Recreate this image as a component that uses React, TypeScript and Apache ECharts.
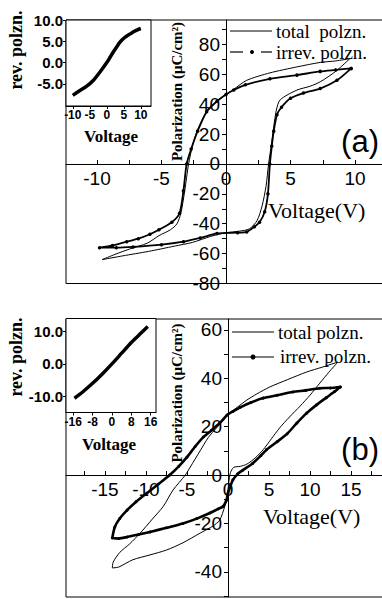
import React, { useEffect, useRef } from 'react';
import * as echarts from 'echarts';

const SERIF = '"Liberation Serif", "Times New Roman", serif';
const SANS = '"Liberation Sans", Arial, sans-serif';

// ---------- Panel (a) ----------
const aTotalV = [9.6, 8.5, 7.3, 5.5, 3.4, 1.6, 0.6, 0, -0.7, -1.5, -2.2, -2.6, -2.9, -3.2, -3.5, -3.8, -4.3, -5.2, -6.1, -7.5, -8.6, -9.6,
  -8, -6, -4, -2.6, -1.2, 0, 1, 1.8, 2.4, 2.8, 3.1, 3.3, 3.5, 3.7, 3.9, 4.2, 5.5, 6.5, 7.3, 8.5, 9.6];
const aTotalP = [70.5, 69, 68, 65, 61, 56, 50, 46.5, 42, 35, 23, 12, 0, -18, -33, -40, -44, -48, -53, -57, -60.5, -64,
  -61.5, -58.5, -55, -52.5, -48.5, -46, -45, -43.5, -38, -28, -15, 0, 12, 25, 36, 43, 49.5, 52, 55, 62, 70.5];

const aIrrevV = [9.7, 8.5, 7.3, 5.5, 3.4, 1.5, 0.6, 0, -0.7, -1.5, -2.2, -2.7, -3.05, -3.3, -3.6, -4.2, -5.2, -5.9, -6.8, -7.7, -8.8, -9.8,
  -8.5, -7.2, -5, -3.3, -2, -0.7, 0.9, 1.6, 2.2, 2.6, 3.0, 3.25, 3.4, 3.55, 3.7, 3.95, 4.3, 5, 6, 7.3, 8.6, 9.7];
const aIrrevP = [64, 63, 62, 59.5, 57, 53, 49.5, 46.5, 42, 35, 22, 10, 0, -18, -33, -39, -44, -47, -50, -52, -54.5, -56,
  -56, -55.5, -54, -52, -49.5, -46.5, -46, -45.5, -42, -39, -32, -20, 0, 12, 22, 33, 38, 44, 47.5, 50.5, 56, 64];

const aRevV = [-10, -8, -6, -4, -2, 0, 1, 2, 3, 4, 5, 6, 7, 8, 9, 10];
const aRevP = [-7.7, -6.6, -5.6, -4.2, -2.2, 0, 1.3, 2.6, 3.8, 4.9, 5.7, 6.3, 6.8, 7.3, 7.7, 8.0];

// ---------- Panel (b) ----------
const bTotalV = [13.4, 11.5, 9.6, 7.3, 5.1, 3.5, 2.3, 1.2, 0.2, -0.6, -1.4, -2.4, -3.4, -4.6, -5.2, -6.7, -7.9, -9.3, -10.7, -12, -13.2, -14, -14.1,
  -13.3, -11.6, -9.5, -7.5, -5.5, -3.4, -1.8, -1, -0.4, -0.1, 0.1, 0.3, 0.7, 1.5, 2.3, 3.3, 4.3, 5.3, 6.3, 7.5, 8.8, 10, 11.2, 12.3, 13.4];
const bTotalP = [46.7, 44.6, 42.6, 39.5, 36.4, 33.5, 31, 28.2, 25.6, 22.5, 19.5, 15.5, 10, 3.3, 0, -6.2, -13, -18.5, -24, -28.5, -32, -36, -38.4,
  -38, -35, -33, -31, -28, -24, -21, -18.6, -13, -9, -3, 1, 3.2, 3.6, 4.5, 7, 10.5, 15, 19.5, 24, 28.5, 33, 38, 42.5, 46.7];

const bIrrevV = [13.7, 12.5, 11.2, 9.5, 7.9, 6, 4.3, 2.8, 1.5, 0.6, -0.1, -1, -2, -3, -4, -5, -6, -7.1, -8.5, -9.9, -11.2, -12.3, -13.2, -13.8, -14.1,
  -13.3, -12.3, -10.9, -9.5, -7.5, -5.5, -3.8, -2.2, -1.2, -0.6, -0.2, 0, 0.3, 0.6, 1.2, 1.8, 3, 4, 4.7, 6, 7.2, 8.4, 9.6, 10.8, 12, 13, 13.7];
const bIrrevP = [36.4, 36, 35.9, 35, 34.3, 33, 31.8, 30, 28, 26.3, 24.8, 21.5, 18.5, 15.7, 11.8, 7.4, 3.6, 0, -3.8, -7.5, -11, -14.5, -18, -21.5, -26,
  -26.2, -25.6, -24.6, -23.5, -21.8, -20, -18, -15.7, -14, -13, -10.5, -7.5, -4.5, -2, 0.5, 2, 4.8, 8, 10.5, 13.8, 17, 21.5, 25.6, 29, 32, 34.5, 36.4];

const bRevV = [-15.5, -12, -8, -4, 0, 4, 8, 12, 14.8];
const bRevP = [-10.6, -8.6, -6.0, -3.1, 0, 3.3, 6.6, 9.5, 11.5];

// ---------- Axis ticks / labels ----------
const aXLabels = [-10, -5, 0, 5, 10];
const aXTicks = [-10, -7.5, -5, -2.5, 0, 2.5, 5, 7.5, 10];
const aYLabels = [-80, -60, -40, -20, 0, 20, 40, 60, 80];
const aYTicks = [-80, -70, -60, -50, -40, -30, -20, -10, 0, 10, 20, 30, 40, 50, 60, 70, 80, 90];
const bXLabels = [-15, -10, -5, 0, 5, 10, 15];
const bXTicks = [-17.5, -15, -12.5, -10, -7.5, -5, -2.5, 0, 2.5, 5, 7.5, 10, 12.5, 15, 17.5];
const bYLabels = [-40, -20, 0, 20, 40, 60];
const bYTicks = [-50, -40, -30, -20, -10, 0, 10, 20, 30, 40, 50, 60];
const aInsetXLabels = [-10, -5, 0, 5, 10];
const aInsetYLabels = [-5, 0, 5, 10];
const bInsetXLabels = [-16, -8, 0, 8, 16];
const bInsetYLabels = [-10, 0, 10];

const zip = (xs: number[], ys: number[]) => xs.map((x, i) => [x, ys[i]]);

// grid geometry (pixels)
const GA = { left: 66, top: 20, width: 320, height: 263.5 };
const GB = { left: 66, top: 319, width: 320, height: 278 };
const A_X = [-12.4, 12.4];
const A_Y = [-80, 96.4];
const B_X = [-19.75, 19.27];
const B_Y = [-50.4, 64.5];

// offsets that bring the axes onto the zero lines
const zeroOffsetX = (g: any, yr: number[]) => -(g.height * (0 - yr[0])) / (yr[1] - yr[0]);
const zeroOffsetY = (g: any, xr: number[]) => -(g.width * (0 - xr[0])) / (xr[1] - xr[0]);

const mainX = (gridIndex: number, r: number[], labels: number[], ticks: number[], offset: number) => ({
  type: 'value', gridIndex, min: r[0], max: r[1], position: 'bottom', offset,
  axisLine: { onZero: false, lineStyle: { color: '#000', width: 1 } },
  axisTick: { show: true, inside: true, length: 4, customValues: ticks, lineStyle: { color: '#000' } },
  axisLabel: { customValues: labels, color: '#000', fontFamily: SANS, fontSize: 19, margin: 5 },
  splitLine: { show: false },
});
const mainY = (gridIndex: number, r: number[], labels: number[], ticks: number[], offset: number) => ({
  type: 'value', gridIndex, min: r[0], max: r[1], position: 'left', offset,
  axisLine: { onZero: false, lineStyle: { color: '#000', width: 1 } },
  axisTick: { show: true, inside: false, length: 4, customValues: ticks, lineStyle: { color: '#000' } },
  axisLabel: { customValues: labels, color: '#000', fontFamily: SANS, fontSize: 19, margin: 6 },
  splitLine: { show: false },
});
const insetX = (gridIndex: number, min: number, max: number, labels: number[]) => ({
  type: 'value', gridIndex, min, max, position: 'bottom',
  axisLine: { onZero: false, lineStyle: { color: '#000', width: 1 } },
  axisTick: { show: true, inside: false, length: 3, customValues: labels, lineStyle: { color: '#000' } },
  axisLabel: { customValues: labels, color: '#000', fontFamily: SANS, fontWeight: 'bold', fontSize: 12, margin: 3 },
  splitLine: { show: false },
});
const insetY = (gridIndex: number, min: number, max: number, labels: number[]) => ({
  type: 'value', gridIndex, min, max, position: 'left',
  axisLine: { onZero: false, lineStyle: { color: '#000', width: 1 } },
  axisTick: { show: true, inside: false, length: 3, customValues: labels, lineStyle: { color: '#000' } },
  axisLabel: {
    customValues: labels, color: '#000', fontFamily: SANS, fontWeight: 'bold', fontSize: 15, margin: 3,
    formatter: (v: number) => v.toFixed(1),
  },
  splitLine: { show: false },
});

const txt = (x: number, y: number, text: string, font: string, align = 'left', rotation = 0) => ({
  type: 'text', x, y, rotation, z: 10,
  style: { text, font, fill: '#000', textAlign: align, textVerticalAlign: 'middle' },
});
const seg = (x1: number, y1: number, x2: number, y2: number, w = 1) => ({
  type: 'line', z: 10, shape: { x1, y1, x2, y2 }, style: { stroke: '#000', lineWidth: w },
});
const dot = (cx: number, cy: number, r: number) => ({
  type: 'circle', z: 10, shape: { cx, cy, r }, style: { fill: '#000' },
});

const gridBase = { show: true, borderColor: '#000', borderWidth: 1, containLabel: false, outerBoundsMode: 'none' };

export default function App() {
  const ref = useRef<HTMLDivElement>(null);
  useEffect(() => {
    const chart = echarts.init(ref.current!, null, { renderer: 'svg' });
    const option: any = {
      animation: false,
      backgroundColor: '#fff',
      grid: [
        { ...gridBase, ...GA },
        { ...gridBase, left: 66, top: 20, width: 85, height: 86, backgroundColor: '#fff', z: 1 },
        { ...gridBase, ...GB },
        { ...gridBase, left: 66, top: 318.5, width: 90, height: 94, backgroundColor: '#fff', z: 1 },
      ],
      xAxis: [
        mainX(0, A_X, aXLabels, aXTicks, zeroOffsetX(GA, A_Y)),
        insetX(1, -12, 13, aInsetXLabels),
        mainX(2, B_X, bXLabels, bXTicks, zeroOffsetX(GB, B_Y)),
        insetX(3, -19, 18.2, bInsetXLabels),
      ],
      yAxis: [
        mainY(0, A_Y, aYLabels, aYTicks, zeroOffsetY(GA, A_X)),
        insetY(1, -10.2, 10, aInsetYLabels),
        mainY(2, B_Y, bYLabels, bYTicks, zeroOffsetY(GB, B_X)),
        insetY(3, -15, 14, bInsetYLabels),
      ],
      series: [
        {
          name: 'total polzn.', type: 'line', xAxisIndex: 0, yAxisIndex: 0, data: zip(aTotalV, aTotalP),
          showSymbol: false, smooth: 0.25, lineStyle: { color: '#000', width: 1 },
        },
        {
          name: 'irrev. polzn.', type: 'line', xAxisIndex: 0, yAxisIndex: 0, data: zip(aIrrevV, aIrrevP),
          symbol: 'circle', symbolSize: 3.5, showSymbol: true, smooth: 0.25,
          itemStyle: { color: '#000' }, lineStyle: { color: '#000', width: 1.8 },
        },
        {
          name: 'rev a', type: 'line', xAxisIndex: 1, yAxisIndex: 1, data: zip(aRevV, aRevP),
          showSymbol: false, smooth: 0.3, lineStyle: { color: '#000', width: 3.5 },
        },
        {
          name: 'total polzn. b', type: 'line', xAxisIndex: 2, yAxisIndex: 2, data: zip(bTotalV, bTotalP),
          showSymbol: false, smooth: 0.25, lineStyle: { color: '#000', width: 1 },
        },
        {
          name: 'irrev. polzn. b', type: 'line', xAxisIndex: 2, yAxisIndex: 2, data: zip(bIrrevV, bIrrevP),
          symbol: 'circle', symbolSize: 3, showSymbol: true, smooth: 0.25,
          itemStyle: { color: '#000' }, lineStyle: { color: '#000', width: 2.6 },
        },
        {
          name: 'rev b', type: 'line', xAxisIndex: 3, yAxisIndex: 3, data: zip(bRevV, bRevP),
          showSymbol: false, smooth: 0.3, lineStyle: { color: '#000', width: 3.5 },
        },
      ],
      graphic: [
        // legend (a)
        seg(230, 31, 272, 31),
        txt(276, 31, 'total  polzn.', `19px ${SERIF}`),
        seg(230, 52, 243, 52, 1.2),
        dot(252, 52, 2),
        seg(261, 52, 272, 52, 1.2),
        txt(276, 52, 'irrev. polzn.', `19px ${SERIF}`),
        // legend (b)
        seg(232, 332, 274, 332),
        txt(278, 332, 'total polzn.', `19px ${SERIF}`),
        seg(232, 357, 274, 357, 1.2),
        dot(253, 357, 2.5),
        txt(280, 356, 'irrev. polzn.', `19px ${SERIF}`),
        // panel labels
        txt(360, 141, '(a)', `31px ${SANS}`, 'center'),
        txt(360, 449, '(b)', `31px ${SANS}`, 'center'),
        // axis titles
        txt(268, 210, 'Voltage(V)', `22px ${SERIF}`),
        txt(263, 516, 'Voltage(V)', `22px ${SERIF}`),
        txt(177, 91.5, 'Polarization (\u03bcC/cm\u00b2)', `bold 15px ${SERIF}`, 'center', Math.PI / 2),
        txt(177, 393, 'Polarization (\u03bcC/cm\u00b2)', `bold 15px ${SERIF}`, 'center', Math.PI / 2),
        txt(16, 50, 'rev. polzn.', `bold 18px ${SERIF}`, 'center', Math.PI / 2),
        txt(16, 357, 'rev. polzn.', `bold 18px ${SERIF}`, 'center', Math.PI / 2),
        txt(111, 136, 'Voltage', `bold 17px ${SERIF}`, 'center'),
        txt(109, 444, 'Voltage', `bold 17px ${SERIF}`, 'center'),
      ],
    };
    chart.setOption(option);
    return () => chart.dispose();
  }, []);
  return (
    <div
      ref={ref}
      style={{ position: 'fixed', left: 0, top: 0, width: 390, height: 599, background: '#fff' }}
    />
  );
}
